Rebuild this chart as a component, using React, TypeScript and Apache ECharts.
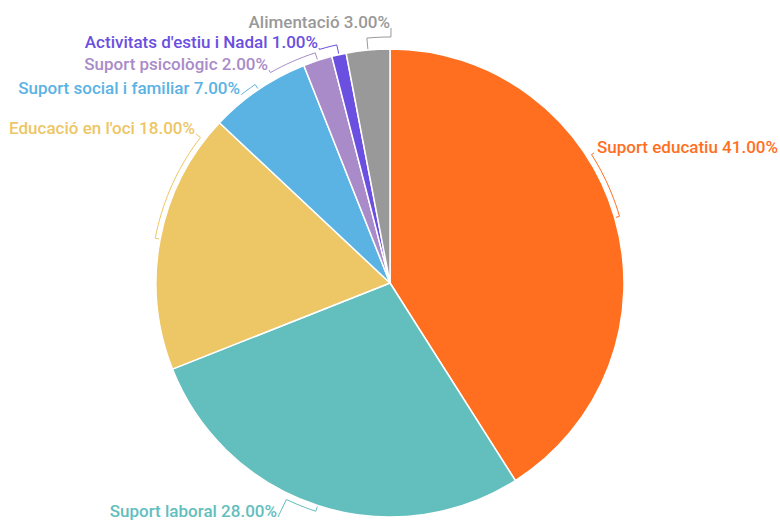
import React, { useEffect, useRef } from "react";
import * as echarts from "echarts";

const categories = [
  "Suport educatiu",
  "Suport laboral",
  "Educació en l'oci",
  "Suport social i familiar",
  "Suport psicològic",
  "Activitats d'estiu i Nadal",
  "Alimentació",
];
const values = [41, 28, 18, 7, 2, 1, 3];
const colors = ["#FF6F1F", "#63BEBE", "#EDC665", "#5BB3E4", "#A98BC9", "#6A4FE0", "#999999"];

// label placement (styling): x, y, alignment, and label-line gap from the pie edge
const labelX = [597, 277, 195, 240, 268, 318, 390];
const labelY = [147, 511, 128, 88, 64, 42, 22];
const labelAlign = ["left", "right", "right", "right", "right", "right", "right"];
const lineGap = [5, 6, 5, 6, 8, 10, 12];

const CX = 390;
const CY = 283;
const R = 234;

function pt(angleDeg: number, r: number): number[] {
  const a = (angleDeg * Math.PI) / 180;
  return [CX + r * Math.sin(a), CY - r * Math.cos(a)];
}

export default function App() {
  const ref = useRef<HTMLDivElement>(null);
  useEffect(() => {
    if (!ref.current) return;
    const chart = echarts.init(ref.current, undefined, { renderer: "svg" });
    const total = values.reduce((a, b) => a + b, 0);
    const midAngles: number[] = [];
    let acc = 0;
    values.forEach((v) => {
      midAngles.push(((acc + v / 2) / total) * 360);
      acc += v;
    });

    const linePoints = (i: number) => {
      const left = labelAlign[i] === "left";
      const ax = left ? labelX[i] - 3 : labelX[i] + 1;
      const ay = labelY[i] + 6;
      let end = (Math.atan2(ax - CX, -(ay - CY)) * 180) / Math.PI;
      if (end < 0) end += 360;
      const start = midAngles[i];
      let diff = end - start;
      if (diff > 180) diff -= 360;
      if (diff < -180) diff += 360;
      const r = R + lineGap[i];
      const pts: number[][] = [pt(start, R + 1), pt(start, r)];
      const steps = Math.max(1, Math.ceil(Math.abs(diff) / 1.5));
      for (let s = 1; s <= steps; s++) pts.push(pt(start + (diff * s) / steps, r));
      pts.push([ax, ay]);
      return pts;
    };

    chart.setOption({
      animation: false,
      series: [
        {
          type: "pie",
          center: [CX, CY],
          radius: R,
          startAngle: 90,
          clockwise: true,
          data: categories.map((name, i) => ({
            name,
            value: values[i],
            itemStyle: { color: colors[i] },
            label: { color: colors[i] },
            labelLine: { lineStyle: { color: colors[i] } },
          })),
          itemStyle: { borderColor: "#fff", borderWidth: 1.5 },
          label: {
            fontFamily: "Roboto",
            fontSize: 17,
            fontWeight: 500,
            overflow: "none",
            formatter: (p: any) => `${p.name} ${p.percent.toFixed(2)}%`,
          },
          labelLine: { length: 8, length2: 10, smooth: false, lineStyle: { width: 1 } },
          labelLayout: (p: any) => ({
            x: labelX[p.dataIndex],
            y: labelY[p.dataIndex],
            align: labelAlign[p.dataIndex],
            verticalAlign: "middle",
            labelLinePoints: linePoints(p.dataIndex),
          }),
        },
      ],
    });
    return () => chart.dispose();
  }, []);
  return <div ref={ref} style={{ position: "absolute", left: 0, top: 0, width: 780, height: 521 }} />;
}
